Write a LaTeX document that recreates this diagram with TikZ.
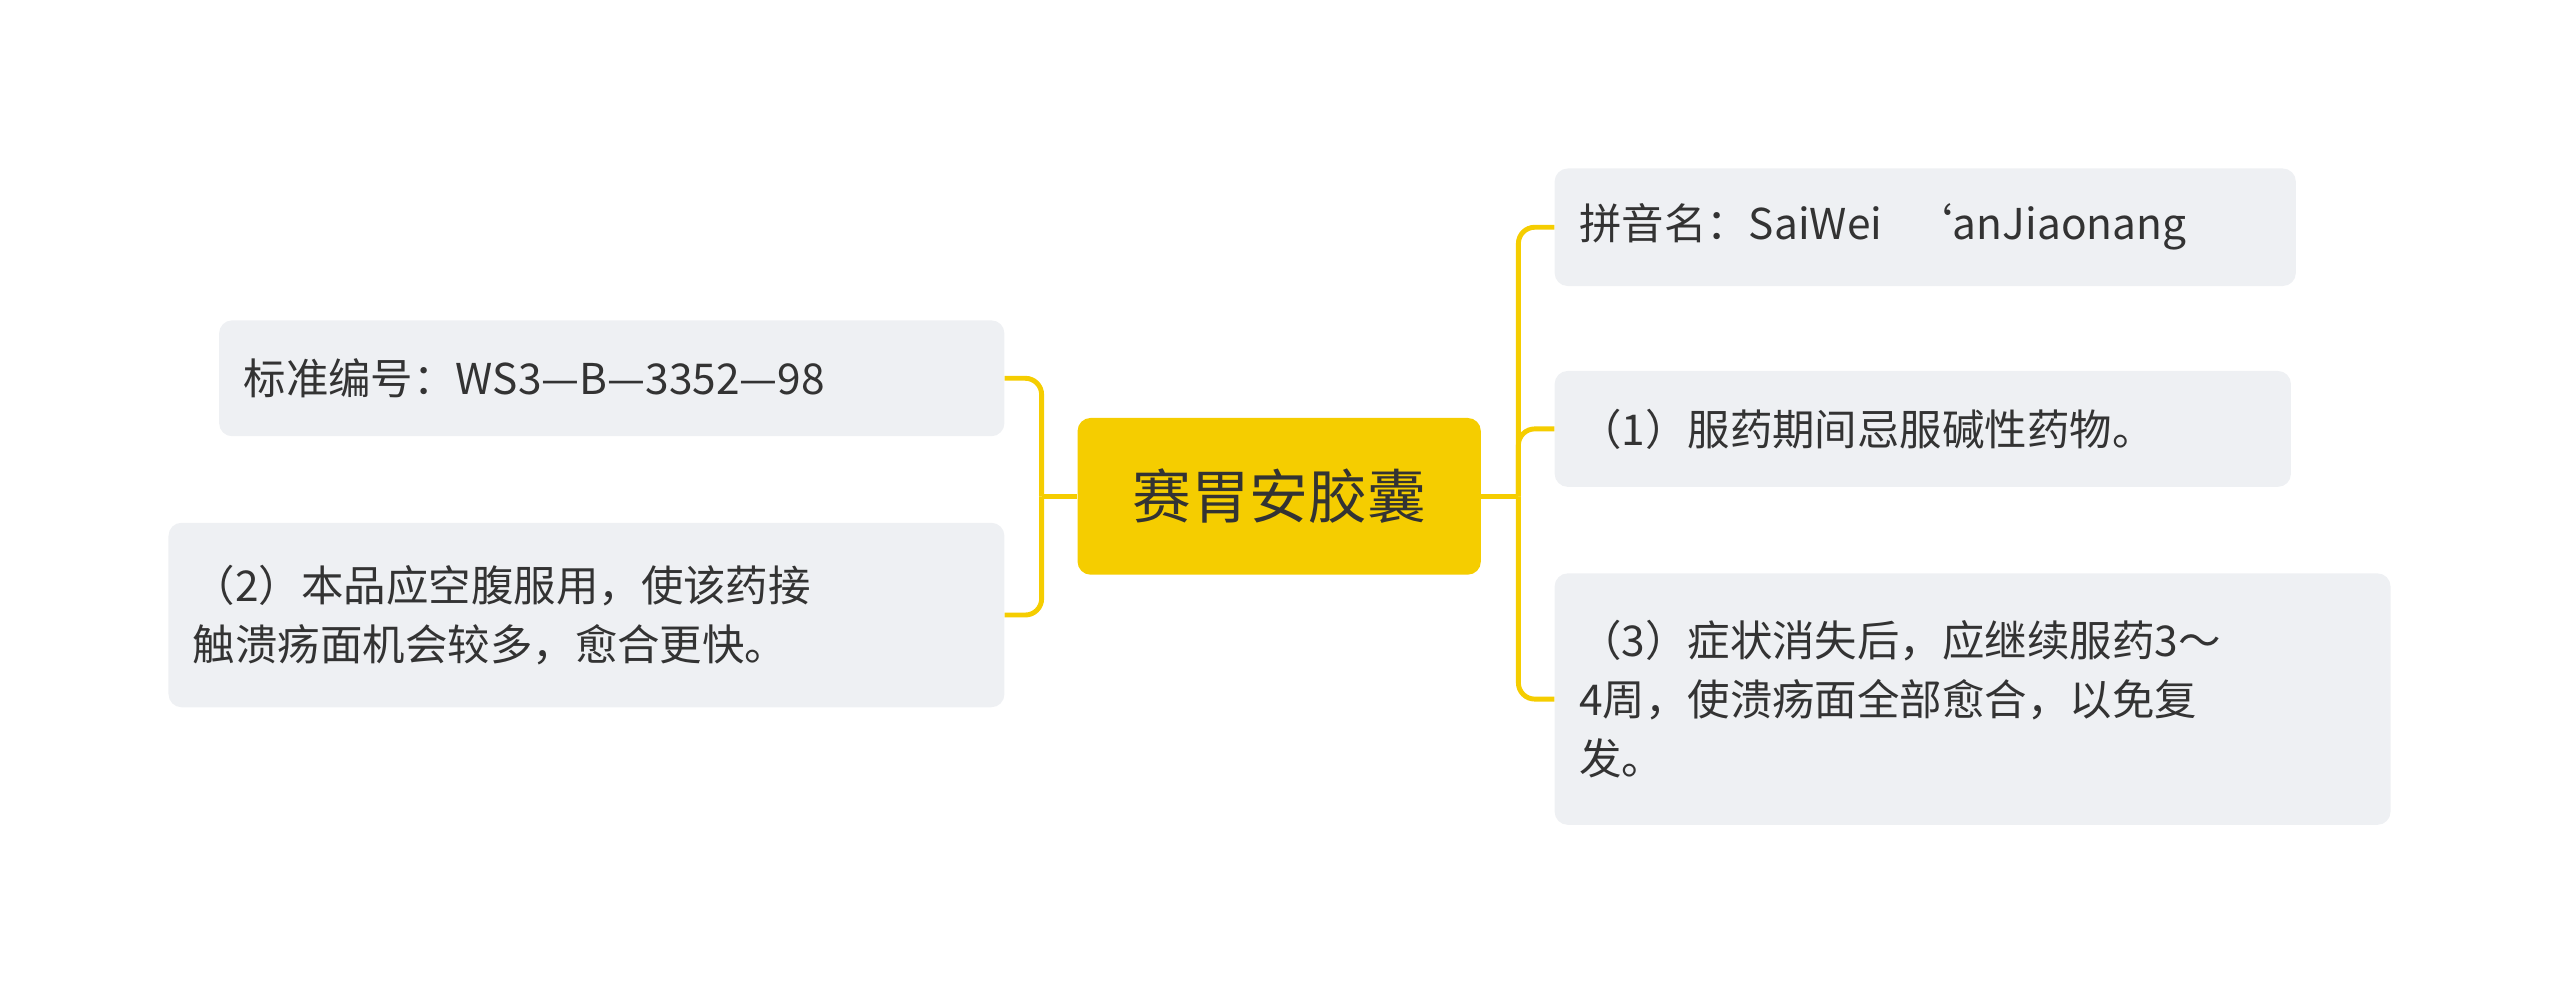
\documentclass[tikz,border=0pt]{standalone}
\usepackage{fontspec}
\setmainfont{Noto Sans CJK SC}
\definecolor{leafgray}{HTML}{EEF0F3}
\definecolor{rootgold}{HTML}{F5CD00}
\definecolor{inkgray}{HTML}{333333}
\tikzset{
  leaf/.style={fill=leafgray, rounded corners=8pt, anchor=north west, align=left,
    inner xsep=15pt, inner ysep=0pt, font=\fontsize{26}{36}\selectfont, text=inkgray},
  link/.style={draw=rootgold, line width=3pt, rounded corners=10pt}
}
\begin{document}
\begin{tikzpicture}[x=1pt,y=-1pt]
  \useasboundingbox (0,0) rectangle (1568,609);
  % root
  \node[fill=rootgold, rounded corners=8pt, minimum width=247pt, minimum height=96pt,
    font=\fontsize{36}{40}\selectfont, text=inkgray] (root) at (783.5,304) {赛胃安胶囊};
  % left side
  \node[leaf, minimum width=481pt, minimum height=71pt, text width=451pt] (num) at (134,196) {标准编号：WS3—B—3352—98};
  \node[leaf, minimum width=512pt, minimum height=113pt, text width=482pt] (empty) at (103,320) {（2）本品应空腹服用，使该药接\\触溃疡面机会较多，愈合更快。};
  % right side
  \node[leaf, minimum width=454pt, minimum height=72pt, text width=424pt] (pinyin) at (952,103) {拼音名：SaiWei\ \ ‘anJiaonang};
  \node[leaf, minimum width=451pt, minimum height=71pt, text width=421pt] (avoid) at (952,227) {（1）服药期间忌服碱性药物。};
  \node[leaf, minimum width=512pt, minimum height=154pt, text width=482pt] (cont) at (952,351) {（3）症状消失后，应继续服药3～\\4周，使溃疡面全部愈合，以免复\\发。};
  % connectors
  \coordinate (lj) at (638,304);
  \coordinate (rj) at (930,304);
  \draw[link] (root.west) -- (lj);
  \draw[link] (lj) |- (num.east);
  \draw[link] (lj) |- (empty.east);
  \draw[link] (root.east) -- (rj);
  \foreach \leafname in {pinyin, avoid, cont}
    \draw[link] (rj) |- (\leafname.west);
\end{tikzpicture}
\end{document}
